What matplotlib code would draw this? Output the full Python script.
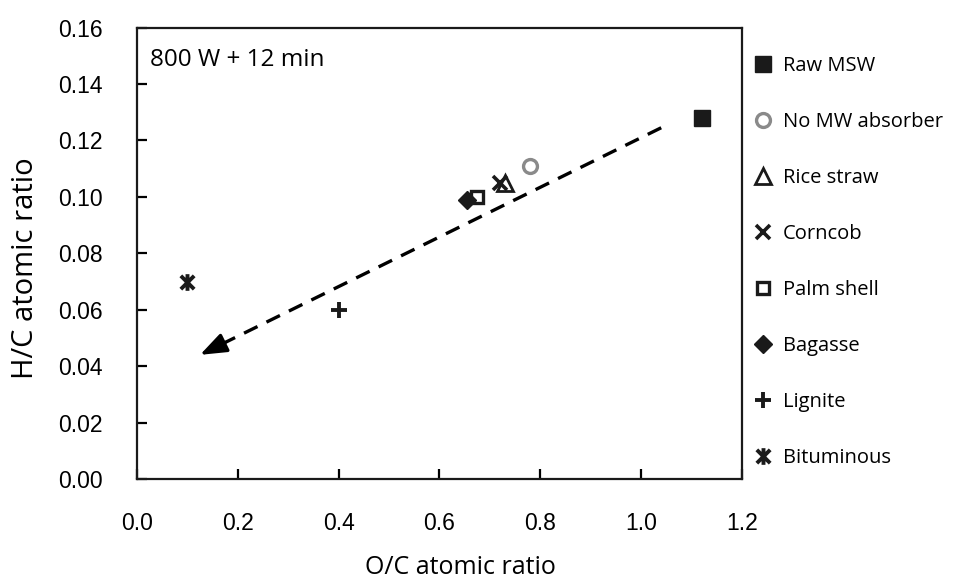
import matplotlib
matplotlib.use("Agg")
import matplotlib.pyplot as plt
from matplotlib.path import Path
import numpy as np

# ---- data ----
labels = ["Raw MSW", "No MW absorber", "Rice straw", "Corncob",
          "Palm shell", "Bagasse", "Lignite", "Bituminous"]
oc = [1.12, 0.78, 0.73, 0.72, 0.675, 0.655, 0.40, 0.10]
hc = [0.128, 0.111, 0.105, 0.105, 0.100, 0.099, 0.060, 0.070]
arrow_start = (1.04, 0.1245)
arrow_end = (0.125, 0.044)
xticks = [0.0, 0.2, 0.4, 0.6, 0.8, 1.0, 1.2]
yticks = [0.00, 0.02, 0.04, 0.06, 0.08, 0.10, 0.12, 0.14, 0.16]

# asterisk marker (x with vertical bar)
star_path = Path(
    [(-1, -1), (1, 1), (-1, 1), (1, -1), (0, -1.25), (0, 1.25)],
    [Path.MOVETO, Path.LINETO, Path.MOVETO, Path.LINETO, Path.MOVETO, Path.LINETO])

dark = "#1a1a1a"
styles = [
    dict(marker="s", ms=12, mfc=dark, mec=dark, mew=1),
    dict(marker="o", ms=10, mfc="none", mec="#8a8a8a", mew=2.4),
    dict(marker="^", ms=11, mfc="none", mec=dark, mew=2.0),
    dict(marker="x", ms=10, mfc="none", mec=dark, mew=2.6),
    dict(marker="s", ms=9, mfc="none", mec=dark, mew=2.4),
    dict(marker="D", ms=9, mfc=dark, mec=dark, mew=1),
    dict(marker="+", ms=12, mfc="none", mec=dark, mew=2.8),
    dict(marker=star_path, ms=12, mfc="none", mec=dark, mew=2.8),
]

tick_font = "Liberation Sans"
lab_font = "Open Sans"

fig = plt.figure(figsize=(9.56, 5.87), dpi=100)
ax = fig.add_axes([0.1433, 0.184, 0.776 - 0.1433, 0.953 - 0.184])

for x, y, lab, st in zip(oc, hc, labels, styles):
    ax.plot([x], [y], linestyle="none", label=lab, **st)

# dashed shaft + solid head
ax.plot([arrow_start[0], arrow_end[0] + 0.02], [arrow_start[1], arrow_end[1] + 0.00176],
        color="black", lw=2.4, linestyle=(0, (4.5, 3)), solid_capstyle="butt")
ax.annotate("", xy=arrow_end, xytext=(arrow_end[0] + 0.05, arrow_end[1] + 0.0044),
            arrowprops=dict(arrowstyle="-|>,head_length=0.8,head_width=0.3",
                            color="black", lw=2.4, mutation_scale=20,
                            shrinkA=0, shrinkB=0))

ax.set_xlim(0, 1.2)
ax.set_ylim(0, 0.16)
ax.set_xticks(xticks)
ax.set_yticks(yticks)
ax.set_xticklabels([f"{v:.1f}" for v in xticks], fontfamily=tick_font, fontsize=16.5)
ax.set_yticklabels([f"{v:.2f}" for v in yticks], fontfamily=tick_font, fontsize=16.5)
ax.tick_params(direction="in", length=7, width=1.6, top=False, right=False)
ax.tick_params(axis="x", pad=24)
ax.tick_params(axis="y", pad=25)
for s in ax.spines.values():
    s.set_linewidth(1.6)
    s.set_color(dark)

ax.set_xlabel("O/C atomic ratio", fontfamily=lab_font, fontsize=18)
ax.set_ylabel("H/C atomic ratio", fontfamily=lab_font, fontsize=21)
# position labels in figure pixels via axes coords
ax_w = 742 - 137
ax_h = 479 - 27
ax.xaxis.set_label_coords((461 - 137) / ax_w, -(568 - 479) / ax_h)
ax.yaxis.set_label_coords(-(137 - 25) / ax_w, (479 - 268) / ax_h)
ax.xaxis.label.set_va("center")
ax.yaxis.label.set_va("center")

ax.text(0.022, 0.955, "800 W + 12 min", transform=ax.transAxes,
        fontfamily=lab_font, fontsize=17.5, va="top", ha="left")

leg = fig.legend(loc="upper left", bbox_to_anchor=(0.779, 0.922),
                 bbox_transform=fig.transFigure, frameon=False,
                 prop=dict(family=lab_font, size=14.5), labelspacing=1.79,
                 handlelength=0.8, handletextpad=0.6, borderpad=0)

fig.savefig("out.png", dpi=100, facecolor="white")
